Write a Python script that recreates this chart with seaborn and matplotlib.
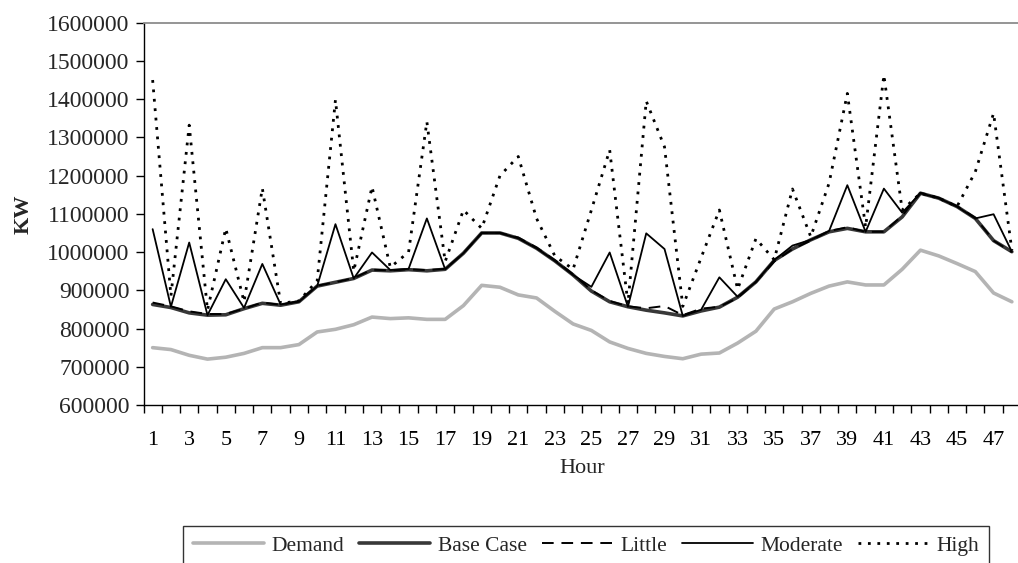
import numpy as np
import pandas as pd
import matplotlib
matplotlib.use("Agg")
import matplotlib.pyplot as plt
import seaborn as sns

hours = list(range(1, 49))

demand = [750000, 745000, 730000, 720000, 725000, 735000, 750000, 750000, 758000, 791000,
          798000, 810000, 830000, 826000, 828000, 824000, 824000, 860000, 913000, 908000,
          888000, 880000, 845000, 812000, 795000, 765000, 748000, 735000, 727000, 721000,
          733000, 736000, 762000, 793000, 851000, 870000, 892000, 911000, 922000, 914000,
          914000, 955000, 1005000, 990000, 970000, 949000, 893000, 870000]

base_case = [863000, 855000, 841000, 835000, 836000, 852000, 866000, 861000, 870000, 911000,
             921000, 931000, 953000, 951000, 954000, 951000, 955000, 997000, 1050000, 1050000,
             1036000, 1010000, 977000, 940000, 898000, 870000, 857000, 848000, 841000, 833000,
             846000, 856000, 882000, 922000, 978000, 1008000, 1032000, 1053000, 1062000, 1053000,
             1053000, 1092000, 1154000, 1141000, 1119000, 1088000, 1030000, 1001000]

little = [868000, 858000, 845000, 838000, 838000, 852000, 868000, 862000, 872000, 912000,
          921000, 932000, 954000, 952000, 955000, 953000, 956000, 997000, 1050000, 1050000,
          1038000, 1012000, 979000, 942000, 900000, 872000, 858000, 853000, 859000, 835000,
          852000, 857000, 880000, 922000, 975000, 1008000, 1030000, 1055000, 1065000, 1053000,
          1053000, 1095000, 1155000, 1142000, 1120000, 1090000, 1030000, 1000000]

moderate = [1060000, 857000, 1025000, 835000, 929000, 854000, 969000, 863000, 870000, 911000,
            1073000, 931000, 999000, 953000, 956000, 1088000, 955000, 997000, 1050000, 1050000,
            1036000, 1010000, 977000, 940000, 909000, 999000, 857000, 1049000, 1008000, 833000,
            849000, 934000, 883000, 922000, 979000, 1017000, 1032000, 1055000, 1175000, 1053000,
            1166000, 1103000, 1154000, 1141000, 1119000, 1088000, 1099000, 1001000]

high = [1450000, 885000, 1332000, 848000, 1062000, 870000, 1167000, 866000, 872000, 925000,
        1398000, 950000, 1171000, 960000, 1000000, 1341000, 975000, 1110000, 1062000, 1200000,
        1250000, 1088000, 990000, 955000, 1110000, 1267000, 865000, 1395000, 1275000, 858000,
        985000, 1110000, 903000, 1035000, 980000, 1165000, 1040000, 1180000, 1415000, 1065000,
        1463000, 1110000, 1154000, 1141000, 1119000, 1210000, 1363000, 1005000]

series_names = ["Demand", "Base Case", "Little", "Moderate", "High"]
series_values = [demand, base_case, little, moderate, high]

df = pd.DataFrame({"Hour": hours * len(series_names),
                   "KW": sum(series_values, []),
                   "Series": np.repeat(series_names, len(hours))})

sns.set_theme(style="white")
plt.rcParams["font.family"] = ["Liberation Serif", "DejaVu Serif"]

fig = plt.figure(figsize=(10.18, 5.63), dpi=100)
ax = fig.add_axes([143.5 / 1018, 158 / 563, (1021 - 143.5) / 1018, (405 - 22.7) / 563])

styles = {
    "Demand":    dict(color="#b4b4b4", linewidth=2.6, linestyle="-"),
    "Base Case": dict(color="#383838", linewidth=2.6, linestyle="-"),
    "Little":    dict(color="black", linewidth=1.4, linestyle=(0, (6, 4))),
    "Moderate":  dict(color="black", linewidth=1.3, linestyle="-"),
    "High":      dict(color="black", linewidth=2.0, linestyle=(0, (1, 2.4))),
}

for name in series_names:
    sub = df[df["Series"] == name]
    sns.lineplot(data=sub, x="Hour", y="KW", ax=ax, label=name,
                 estimator=None, sort=False, **styles[name])

ax.set_xlim(0.5, 48.5)
ax.set_ylim(600000, 1600000)
ax.set_yticks(np.arange(600000, 1600001, 100000))
ax.set_yticklabels([f"{v:d}" for v in range(600000, 1600001, 100000)])

# Category axis: labels on odd hours, tick marks on category boundaries
ax.set_xticks(hours[::2])
ax.set_xticklabels([str(h) for h in hours[::2]])
ax.set_xticks(np.arange(0.5, 49.0, 1.0), minor=True)
ax.tick_params(axis="x", which="major", length=0, pad=19, labelsize=16, colors="black")
ax.tick_params(axis="x", which="minor", length=5.5, width=1.0, color="black",
               direction="out", bottom=True)
ax.tick_params(axis="y", which="major", length=6, width=1.0, color="black",
               direction="out", left=True, pad=4, labelsize=17)

for side in ["left", "bottom"]:
    ax.spines[side].set_color("black")
    ax.spines[side].set_linewidth(1.0)
ax.spines["top"].set_color("#8c8c8c")
ax.spines["top"].set_linewidth(1.3)
ax.spines["right"].set_visible(False)
ax.grid(False)

ax.set_xlabel("Hour", fontsize=16, labelpad=6)
ax.set_ylabel("KW", fontsize=16, fontweight="bold", labelpad=10)

handles, labels = ax.get_legend_handles_labels()
if ax.legend_:
    ax.legend_.remove()
leg = fig.legend(handles, labels, ncol=5, loc="upper left",
                 bbox_to_anchor=(183 / 1018, 1 - 526 / 563),
                 frameon=True, fancybox=False, edgecolor="black",
                 fontsize=15.5, handlelength=3.3, handletextpad=0.35,
                 columnspacing=0.7, borderpad=0.45, borderaxespad=0)
leg.get_frame().set_linewidth(1.0)

fig.savefig("out.png", dpi=100)
